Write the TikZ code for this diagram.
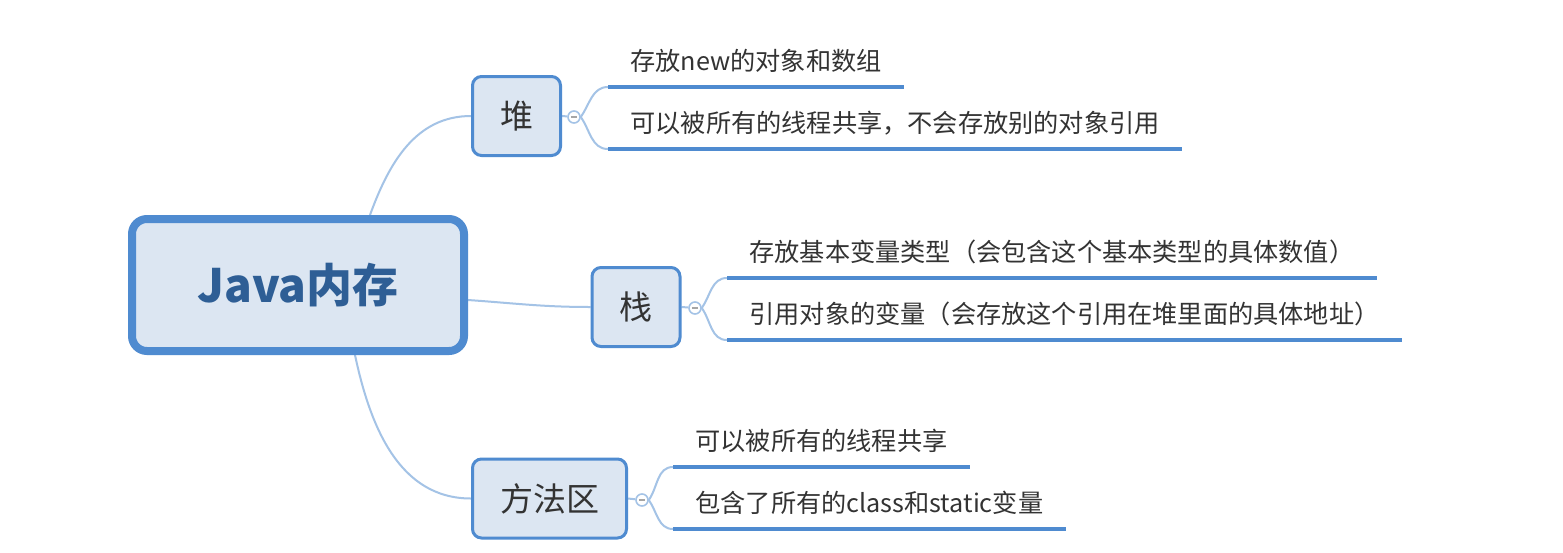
\documentclass[tikz,border=0pt]{standalone}
\usepackage{fontspec}
\setmainfont{Noto Sans CJK SC}
\usetikzlibrary{backgrounds}
\definecolor{mapblue}{HTML}{4F8BD0}
\definecolor{mapfill}{HTML}{DCE6F2}
\definecolor{maplink}{HTML}{A4C3E6}
\definecolor{maptext}{HTML}{333333}
\definecolor{roottext}{HTML}{2E5E95}

\begin{document}
\begin{tikzpicture}[x=0.5pt,y=-0.5pt,
  root/.style={draw=mapblue, line width=4pt, fill=mapfill, rounded corners=7.5pt,
    minimum width=166pt, minimum height=66pt, text=roottext,
    font=\fontsize{23}{28}\selectfont\bfseries},
  topic/.style={draw=mapblue, line width=1.5pt, fill=mapfill, rounded corners=4.5pt,
    minimum width=44pt, minimum height=39.5pt, text=maptext,
    font=\fontsize{16.5}{20}\selectfont},
  fold/.style={circle, draw=maplink, line width=0.8pt, fill=white, minimum size=6pt, inner sep=0pt,
    path picture={\draw[gray!70, line width=0.6pt]
      ([xshift=-1.6pt]path picture bounding box.center) -- ([xshift=1.6pt]path picture bounding box.center);}},
  leaf/.style={anchor=south west, inner xsep=11pt, inner ysep=6.7pt, text height=0.85em,
    text depth=0.15em, text=maptext, font=\fontsize{12.6}{15}\selectfont},
  link/.style={draw=maplink, line width=1pt},
  under/.style={draw=mapblue, line width=2pt}]
  \useasboundingbox (0,0) rectangle (1563,552);

  % central topic and its three branches
  \node[root] (mem) at (298,285) {Java内存};
  \node[topic] (heap) at (516.5,116) {堆};
  \node[topic] (stack) at (636,307) {栈};
  \node[topic, minimum width=77pt] (method) at (549.5,498.5) {方法区};

  % collapse buttons
  \node[fold] (fheap) at (574,117) {};
  \node[fold] (fstack) at (695,308) {};
  \node[fold] (fmethod) at (642,500) {};

  % leaves
  \node[leaf] (heapa) at (608,87) {存放new的对象和数组};
  \node[leaf] (heapb) at (608,149) {可以被所有的线程共享，不会存放别的对象引用};
  \node[leaf] (stacka) at (727,278) {存放基本变量类型（会包含这个基本类型的具体数值）};
  \node[leaf] (stackb) at (727,340) {引用对象的变量（会存放这个引用在堆里面的具体地址）};
  \node[leaf] (methoda) at (673,467) {可以被所有的线程共享};
  \node[leaf] (methodb) at (673,529) {包含了所有的class和static变量};

  \foreach \n in {heapa,heapb,stacka,stackb,methoda,methodb}
    \draw[under] (\n.south west) -- (\n.south east);

  \begin{scope}[on background layer]
    \fill[white] (0,0) rectangle (1563,552);
    % root to branches
    \draw[link] ([xshift=36pt]mem.north) to[out=70,in=180] (heap.west);
    \draw[link] ([yshift=-7.5pt]mem.east) to[out=-4,in=180] (stack.west);
    \draw[link] ([xshift=28.5pt]mem.south) to[out=-78,in=180] (method.west);
    % branches to collapse buttons
    \draw[link] (heap.east) -- (fheap);
    \draw[link] (stack.east) -- (fstack);
    \draw[link] (method.east) -- (fmethod);
    % brackets to leaves
    \draw[link] (fheap.east) to[out=55,in=180] (heapa.south west);
    \draw[link] (fheap.east) to[out=-55,in=180] (heapb.south west);
    \draw[link] (fstack.east) to[out=55,in=180] (stacka.south west);
    \draw[link] (fstack.east) to[out=-55,in=180] (stackb.south west);
    \draw[link] (fmethod.east) to[out=55,in=180] (methoda.south west);
    \draw[link] (fmethod.east) to[out=-55,in=180] (methodb.south west);
  \end{scope}
\end{tikzpicture}
\end{document}
